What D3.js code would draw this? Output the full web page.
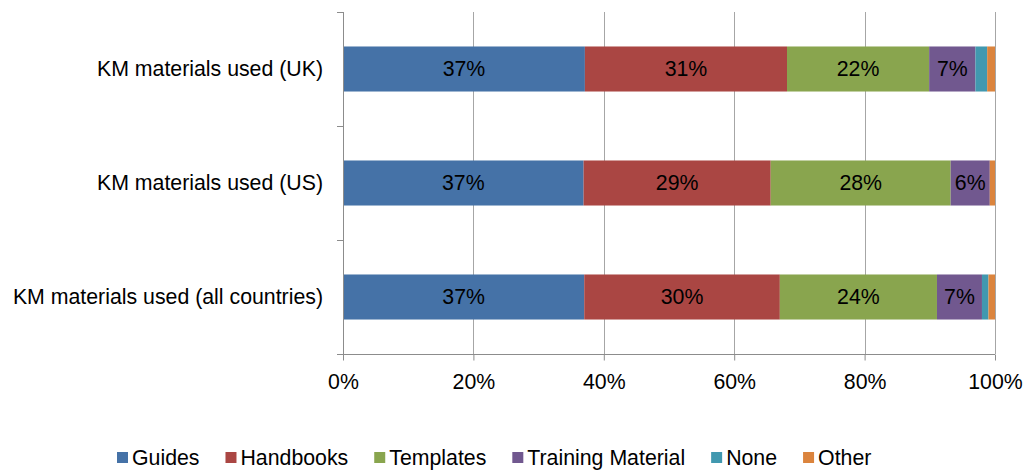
<!DOCTYPE html>
<html>
<head>
<meta charset="utf-8">
<script src="https://cdn.jsdelivr.net/npm/d3@7"></script>
<style>
  html, body { margin: 0; padding: 0; background: #fff; }
  svg { display: block; font-family: "Liberation Sans", Arial, sans-serif; }
</style>
</head>
<body>
<svg id="chart" width="1031" height="472"></svg>
<script>
// Categories, top to bottom
const categories = [
  "KM materials used (UK)",
  "KM materials used (US)",
  "KM materials used (all countries)"
];

// Material types (stack order, left to right)
const seriesNames = ["Guides", "Handbooks", "Templates", "Training Material", "None", "Other"];
const seriesColors = ["#4572A7", "#AA4643", "#89A54E", "#71588F", "#4198AF", "#DB843D"];

// Percent share per category, one array per material type
const guides     = [37.1, 36.9, 37.0];
const handbooks  = [31.0, 28.7, 30.0];
const templates  = [21.8, 27.6, 24.1];
const training   = [7.1, 6.0, 6.9];
const none       = [1.8, 0.0, 1.0];
const other      = [1.2, 0.8, 1.0];

// Segments carrying a value label
const labelled = ["Guides", "Handbooks", "Templates", "Training Material"];

const xTicks = [0, 0.2, 0.4, 0.6, 0.8, 1.0];

const seriesValues = [guides, handbooks, templates, training, none, other];

const rows = categories.map((c, i) => {
  const row = { category: c };
  seriesNames.forEach((s, j) => { row[s] = seriesValues[j][i]; });
  return row;
});

const svg = d3.select("#chart");
const plotLeft = 343, plotRight = 995, plotTop = 12, plotBottom = 354;
const fontSize = 21.3;

const x = d3.scaleLinear().domain([0, 1]).range([plotLeft, plotRight]);
const y = d3.scaleBand().domain(categories).range([plotTop, plotBottom])
  .paddingInner(0.605).paddingOuter(0.3025);

const stack = d3.stack().keys(seriesNames).offset(d3.stackOffsetExpand);
const layers = stack(rows);

// Vertical gridlines
svg.append("g")
  .selectAll("line")
  .data(xTicks.filter(t => t > 0))
  .join("line")
  .attr("x1", d => Math.round(x(d)) + 0.5)
  .attr("x2", d => Math.round(x(d)) + 0.5)
  .attr("y1", plotTop)
  .attr("y2", plotBottom)
  .attr("stroke", "#a6a6a6")
  .attr("stroke-width", 1);

// Stacked bars
const layerG = svg.append("g")
  .selectAll("g")
  .data(layers)
  .join("g")
  .attr("fill", (d, i) => seriesColors[i]);

layerG.selectAll("rect")
  .data(d => d.map(p => ({ p, key: d.key })))
  .join("rect")
  .attr("x", d => x(d.p[0]))
  .attr("y", d => y(d.p.data.category))
  .attr("width", d => Math.max(0, x(d.p[1]) - x(d.p[0])))
  .attr("height", y.bandwidth());

// Value labels
const fmt = d3.format(".0%");
layerG.filter(d => labelled.includes(d.key))
  .selectAll("text")
  .data(d => d.map(p => ({ p, key: d.key })))
  .join("text")
  .attr("x", d => (x(d.p[0]) + x(d.p[1])) / 2)
  .attr("y", d => y(d.p.data.category) + y.bandwidth() / 2)
  .attr("dy", "0.35em")
  .attr("text-anchor", "middle")
  .attr("fill", "#000")
  .attr("font-size", fontSize)
  .text(d => fmt(d.p[1] - d.p[0]));

// Bottom value axis
const xAxis = d3.axisBottom(x).tickValues(xTicks).tickFormat(d3.format(".0%"))
  .tickSize(6).tickSizeOuter(0);
const gx = svg.append("g")
  .attr("transform", `translate(0,${plotBottom + 0.5})`)
  .call(xAxis);
gx.select(".domain").attr("stroke", "#8c8c8c")
  .attr("d", `M${plotLeft - 6},0H${plotRight}`);
gx.selectAll(".tick line").attr("stroke", "#8c8c8c");
gx.selectAll(".tick text")
  .attr("font-size", fontSize)
  .attr("font-family", "Liberation Sans, Arial, sans-serif")
  .attr("fill", "#000")
  .attr("dy", "0")
  .attr("y", 34);

// Left category axis: tick marks on band boundaries
const boundaries = d3.range(categories.length + 1).map(i => plotTop + i * y.step());
const gy = svg.append("g");
gy.append("line")
  .attr("x1", plotLeft + 0.5).attr("x2", plotLeft + 0.5)
  .attr("y1", plotTop).attr("y2", plotBottom)
  .attr("stroke", "#8c8c8c");
gy.selectAll("line.tick")
  .data(boundaries)
  .join("line")
  .attr("class", "tick")
  .attr("x1", plotLeft - 6).attr("x2", plotLeft)
  .attr("y1", d => Math.round(d) + 0.5)
  .attr("y2", d => Math.round(d) + 0.5)
  .attr("stroke", "#8c8c8c");
gy.selectAll("text")
  .data(categories)
  .join("text")
  .attr("x", plotLeft - 20)
  .attr("y", d => y(d) + y.bandwidth() / 2)
  .attr("dy", "0.35em")
  .attr("text-anchor", "end")
  .attr("font-size", fontSize)
  .attr("fill", "#000")
  .text(d => d);

// Legend
const legend = svg.append("g").attr("transform", "translate(117,0)");
let lx = 0;
seriesNames.forEach((name, i) => {
  const g = legend.append("g").attr("transform", `translate(${lx},0)`);
  g.append("rect")
    .attr("x", 0).attr("y", 452)
    .attr("width", 11).attr("height", 11)
    .attr("fill", seriesColors[i]);
  const t = g.append("text")
    .attr("x", 15).attr("y", 464.5)
    .attr("font-size", fontSize)
    .attr("fill", "#000")
    .text(name);
  lx += 15 + t.node().getComputedTextLength() + 26;
});
</script>
</body>
</html>
